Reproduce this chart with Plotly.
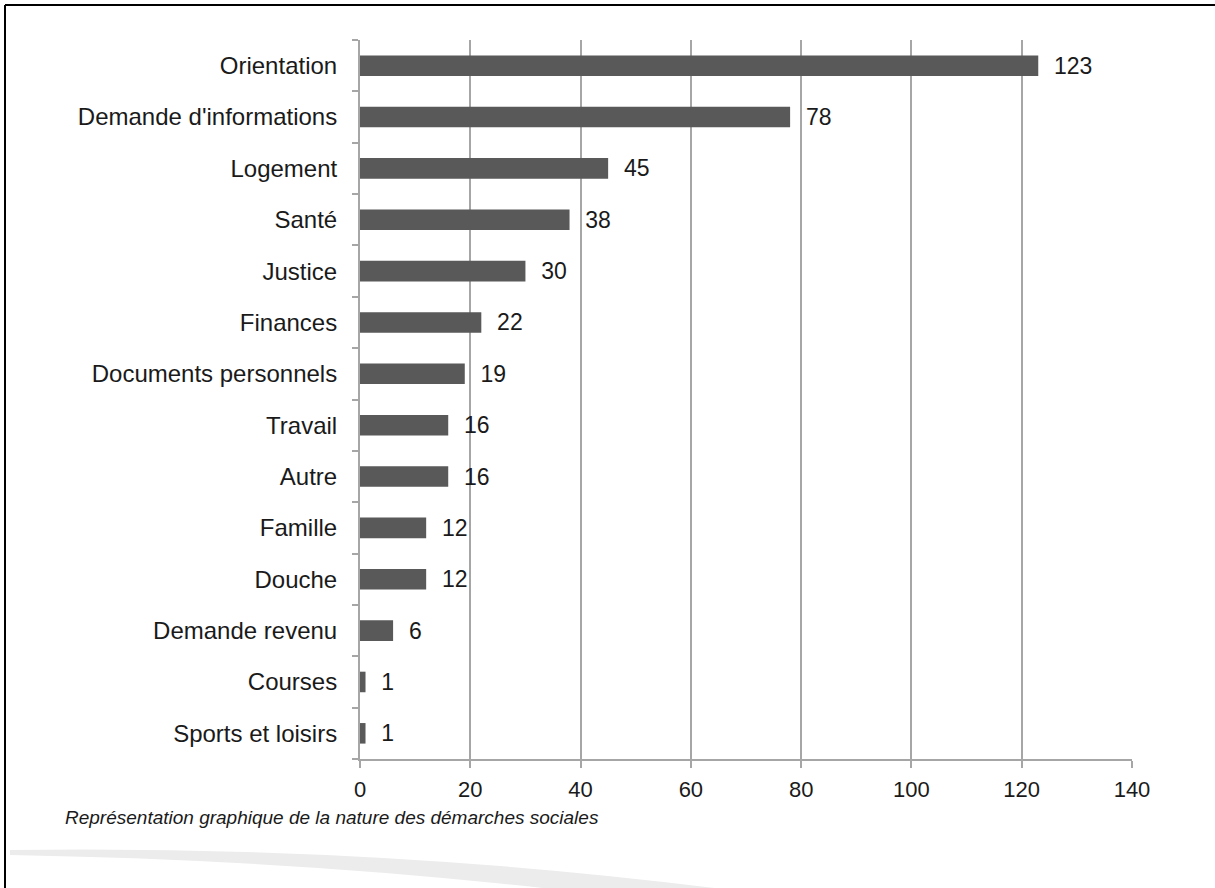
import plotly.graph_objects as go

categories = [
    "Orientation", "Demande d'informations", "Logement", "Santé", "Justice",
    "Finances", "Documents personnels", "Travail", "Autre", "Famille",
    "Douche", "Demande revenu", "Courses", "Sports et loisirs",
]
values = [123, 78, 45, 38, 30, 22, 19, 16, 16, 12, 12, 6, 1, 1]
x_ticks = [0, 20, 40, 60, 80, 100, 120, 140]
caption = "Représentation graphique de la nature des démarches sociales"

W, H = 1215, 888
L, R, T, B = 360, 1132, 40, 759


def px(x):
    return (x - L) / (R - L)


def py(y):
    return (B - y) / (B - T)


FONT = "Liberation Sans, Arial, sans-serif"
GRID = "#a6a6a6"

fig = go.Figure(go.Bar(
    x=values,
    y=categories,
    orientation="h",
    width=0.4,
    marker=dict(color="#595959", line=dict(width=0)),
    text=values,
    texttemplate="  %{text}",
    textposition="outside",
    constraintext="none",
    textfont=dict(size=23, color="#1a1a1a", family=FONT),
    cliponaxis=False,
))

swoosh = (
    f"M {px(10)},{py(850)} "
    f"Q {px(380)},{py(845)} {px(730)},{py(890)} "
    f"L {px(560)},{py(890)} "
    f"Q {px(300)},{py(860)} {px(10)},{py(855)} Z"
)

fig.update_layout(
    width=W,
    height=H,
    margin=dict(l=L, r=W - R, t=T, b=H - B),
    plot_bgcolor="white",
    paper_bgcolor="white",
    font=dict(family=FONT, size=22, color="#1a1a1a"),
    showlegend=False,
    xaxis=dict(
        range=[0, 140],
        tickvals=x_ticks,
        showgrid=True,
        gridcolor=GRID,
        gridwidth=2,
        showline=True,
        linecolor=GRID,
        linewidth=2,
        ticks="outside",
        ticklen=7,
        tickwidth=2,
        tickcolor=GRID,
        zeroline=False,
        ticklabelstandoff=3,
        tickfont=dict(size=22),
    ),
    yaxis=dict(
        categoryorder="array",
        categoryarray=categories[::-1],
        tickson="boundaries",
        ticks="outside",
        ticklen=6,
        tickwidth=2,
        tickcolor=GRID,
        showline=True,
        linecolor=GRID,
        linewidth=2,
        showgrid=False,
        ticklabelstandoff=16,
        tickfont=dict(size=24),
    ),
    shapes=[
        dict(type="path", xref="paper", yref="paper", path=swoosh,
             fillcolor="#ececec", line=dict(width=0), layer="below"),
        dict(type="line", xref="paper", yref="paper",
             x0=px(5), x1=px(W + 5), y0=py(5), y1=py(5),
             line=dict(color="black", width=2)),
        dict(type="line", xref="paper", yref="paper",
             x0=px(5), x1=px(5), y0=py(5), y1=py(H + 5),
             line=dict(color="black", width=2)),
    ],
    annotations=[
        dict(text=f"<i>{caption}</i>", xref="paper", yref="paper",
             x=px(63), y=py(817), xanchor="left", yanchor="middle",
             showarrow=False, font=dict(size=19, color="#1a1a1a")),
    ],
)

fig.write_html(
    "out.html",
    config={"displayModeBar": False},
    post_script="document.body.style.margin='0';document.body.style.overflow='hidden';",
)
